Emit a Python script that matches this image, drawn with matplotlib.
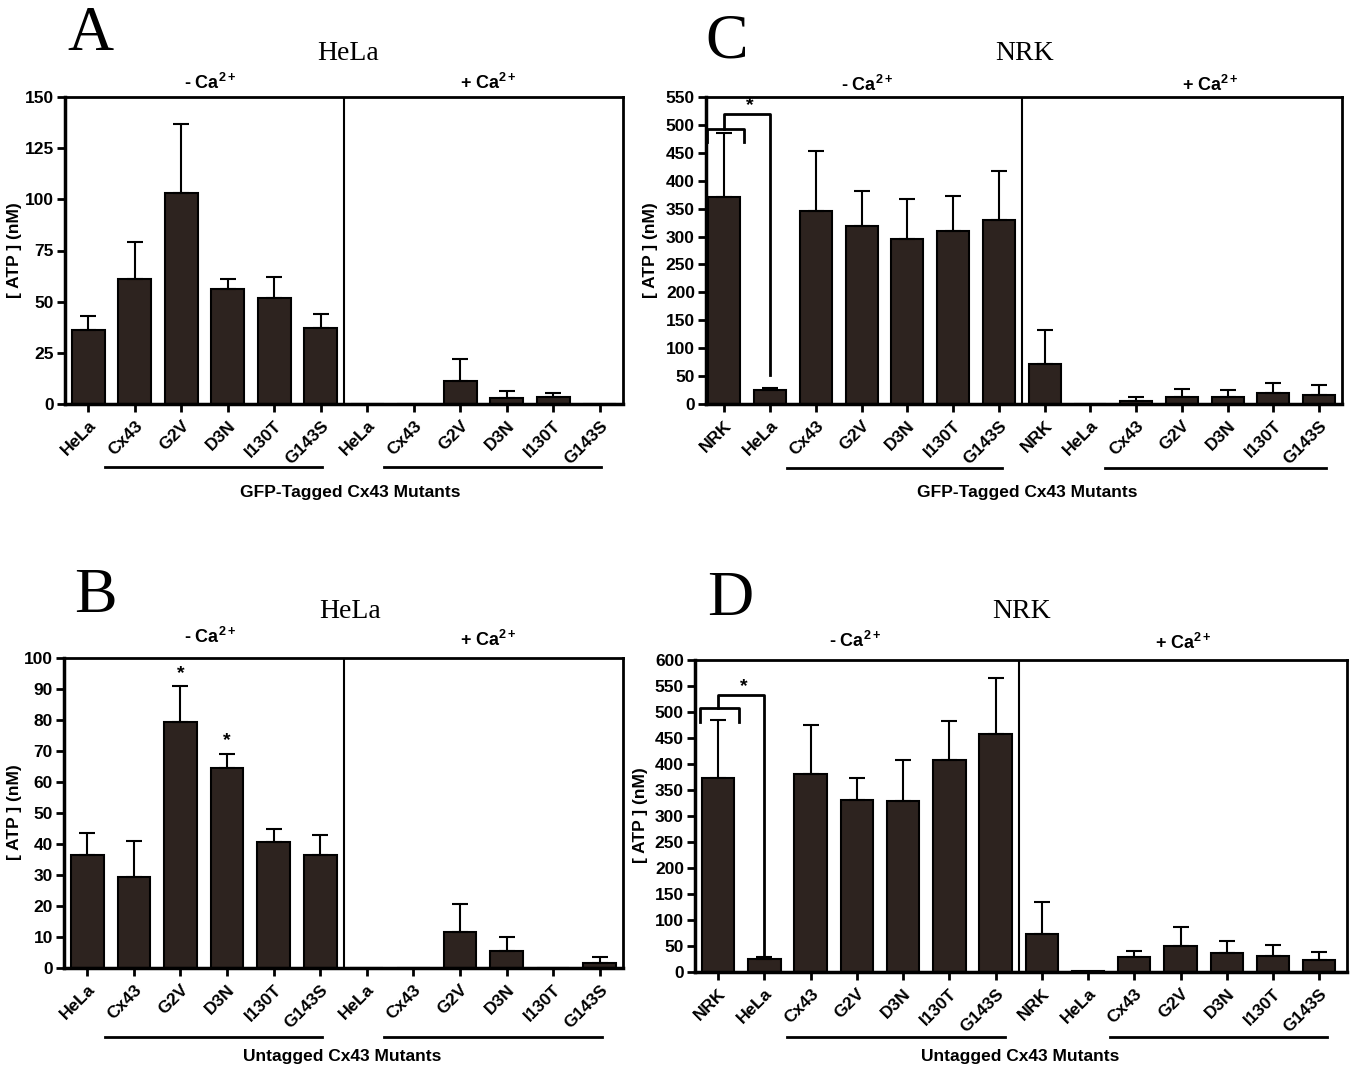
import matplotlib
matplotlib.use("Agg")
import matplotlib.pyplot as plt
import numpy as np

plt.rcParams['font.family'] = ['Liberation Sans Narrow', 'Liberation Sans', 'DejaVu Sans']
plt.rcParams['mathtext.fontset'] = 'custom'
plt.rcParams['mathtext.rm'] = 'Liberation Sans:bold'
plt.rcParams['mathtext.it'] = 'Liberation Sans:bold'
plt.rcParams['mathtext.bf'] = 'Liberation Sans:bold'

# ---------------- data ----------------
hela_labels = ["HeLa", "Cx43", "G2V", "D3N", "I130T", "G143S"]
nrk_labels = ["NRK", "HeLa", "Cx43", "G2V", "D3N", "I130T", "G143S"]

# Panel A: HeLa, GFP-tagged
A_minus = [36, 61, 103, 56, 52, 37]
A_minus_err = [7, 18, 34, 5, 10, 7]
A_plus = [0, 0, 11, 3, 3.5, 0]
A_plus_err = [0, 0, 11, 3.5, 2, 0]

# Panel B: HeLa, untagged
B_minus = [36.5, 29.5, 79.5, 64.5, 40.5, 36.5]
B_minus_err = [7, 11.5, 11.5, 4.5, 4.5, 6.5]
B_plus = [0, 0, 11.5, 5.5, 0, 1.5]
B_plus_err = [0, 0, 9, 4.5, 0, 2]
B_star_idx = [2, 3]
B_star_y = [95, 73.5]

# Panel C: NRK, GFP-tagged
C_minus = [370, 25, 345, 318, 295, 310, 330]
C_minus_err = [115, 3, 108, 64, 72, 62, 88]
C_plus = [72, 0, 5, 13, 12, 19, 17]
C_plus_err = [61, 0, 8, 14, 13, 19, 17]

# Panel D: NRK, untagged
D_minus = [373, 25, 380, 330, 328, 407, 457]
D_minus_err = [112, 3, 95, 43, 80, 75, 108]
D_plus = [74, 1, 28, 50, 37, 30, 23]
D_plus_err = [60, 0, 12, 36, 22, 21, 15]

W, H = 1351, 1070
fig = plt.figure(figsize=(W / 100, H / 100), dpi=100)
fig.patch.set_facecolor('white')

BAR = '#2d231f'


def fx(x):
    return x / W


def fy(y):
    return 1 - y / H


def add_ax(l, t, r, b):
    return fig.add_axes([l / W, 1 - b / H, (r - l) / W, (b - t) / H])


def draw_panel(ax, labels, minus, minus_err, plus, plus_err, ylim, yticks, xlim):
    vals = list(minus) + list(plus)
    errs = list(minus_err) + list(plus_err)
    x = np.arange(len(vals))
    ax.bar(x, vals, width=0.7, color=BAR, edgecolor='black', linewidth=1.5, zorder=2)
    xe = [xi for xi, e in zip(x, errs) if e > 0]
    ve = [v for v, e in zip(vals, errs) if e > 0]
    ee = [e for e in errs if e > 0]
    ax.errorbar(xe, ve, yerr=[np.zeros(len(ee)), ee], fmt='none', ecolor='black',
                elinewidth=1.5, capsize=6, capthick=1.5, zorder=3)
    ax.axvline(len(minus) - 0.5, color='black', lw=1.5, zorder=4)
    ax.set_xlim(*xlim)
    ax.set_ylim(*ylim)
    ax.set_yticks(yticks)
    ax.set_yticklabels([str(t) for t in yticks], fontsize=12.5, fontweight='bold')
    ax.set_xticks(x)
    ax.set_xticklabels(list(labels) * 2, rotation=45, ha='right', va='top',
                       rotation_mode='anchor', fontsize=12.5, fontweight='bold')
    for s in ['left', 'bottom']:
        ax.spines[s].set_linewidth(2.5)
    for s in ['top', 'right']:
        ax.spines[s].set_linewidth(2.0)
    ax.tick_params(axis='both', direction='out', length=6, width=2, pad=2)
    ax.tick_params(axis='x', pad=4)


# ---- Panel A ----
axA = add_ax(65, 97, 623, 404)
draw_panel(axA, hela_labels, A_minus, A_minus_err, A_plus, A_plus_err,
           (0, 150), [0, 25, 50, 75, 100, 125, 150], (-0.5, 11.5))

# ---- Panel C ----
axC = add_ax(706, 97, 1342, 404)
draw_panel(axC, nrk_labels, C_minus, C_minus_err, C_plus, C_plus_err,
           (0, 550), list(range(0, 551, 50)), (-0.4, 13.5))
axC.plot([-0.38, -0.38, 0.44, 0.44], [469, 493, 493, 469], color='black', lw=2, zorder=5)
axC.plot([0, 0, 1, 1], [493, 520, 520, 52], color='black', lw=2, zorder=5)
axC.text(0.55, 534, '*', ha='center', va='center', fontsize=14, fontweight='bold')

# ---- Panel B ----
axB = add_ax(64, 658, 623, 968)
draw_panel(axB, hela_labels, B_minus, B_minus_err, B_plus, B_plus_err,
           (0, 100), list(range(0, 101, 10)), (-0.5, 11.5))
for i, yv in zip(B_star_idx, B_star_y):
    axB.text(i, yv, '*', ha='center', va='center', fontsize=14, fontweight='bold')

# ---- Panel D ----
axD = add_ax(695, 660, 1347, 972)
draw_panel(axD, nrk_labels, D_minus, D_minus_err, D_plus, D_plus_err,
           (0, 600), list(range(0, 601, 50)), (-0.5, 13.6))
axD.plot([-0.39, -0.39, 0.46, 0.46], [481, 507, 507, 481], color='black', lw=2, zorder=5)
axD.plot([0, 0, 1, 1], [507, 533, 533, 30], color='black', lw=2, zorder=5)
axD.text(0.55, 548, '*', ha='center', va='center', fontsize=14, fontweight='bold')

# ---------------- annotations ----------------
serif = ['Liberation Serif', 'DejaVu Serif']

# panel letters
fig.text(fx(90), fy(35), 'A', family=serif, fontsize=46, ha='center', va='center')
fig.text(fx(727), fy(42), 'C', family=serif, fontsize=46, ha='center', va='center')
fig.text(fx(95), fy(597), 'B', family=serif, fontsize=46, ha='center', va='center')
fig.text(fx(730), fy(600), 'D', family=serif, fontsize=46, ha='center', va='center')

# titles
fig.text(fx(348), fy(53), 'HeLa', family=serif, fontsize=20, ha='center', va='center')
fig.text(fx(1025), fy(53), 'NRK', family=serif, fontsize=20, ha='center', va='center')
fig.text(fx(350), fy(611), 'HeLa', family=serif, fontsize=20, ha='center', va='center')
fig.text(fx(1022), fy(612), 'NRK', family=serif, fontsize=20, ha='center', va='center')

ca_minus = r'- Ca$^{2+}$'
ca_plus = r'+ Ca$^{2+}$'
ca_pos = [
    (210, 83, ca_minus), (488, 83, ca_plus),
    (867, 85, ca_minus), (1210, 85, ca_plus),
    (210, 637, ca_minus), (488, 640, ca_plus),
    (855, 641, ca_minus), (1183, 643, ca_plus),
]
for x, y, t in ca_pos:
    fig.text(fx(x), fy(y), t, fontsize=13, fontweight='bold', ha='center', va='center')

# y labels
ylab = '[ ATP ] (nM)'
for x, y in [(15, 250), (650, 250), (15, 812), (641, 815)]:
    fig.text(fx(x), fy(y), ylab, rotation=90, fontsize=12.5, fontweight='bold',
             ha='center', va='center')

# group underlines
underlines = [
    (105, 322, 467), (384, 601, 467),
    (787, 1002, 468), (1105, 1326, 468),
    (105, 322, 1037), (384, 602, 1037),
    (787, 1005, 1037), (1110, 1327, 1037),
]
for x0, x1, y in underlines:
    fig.add_artist(plt.Line2D([fx(x0), fx(x1)], [fy(y), fy(y)], color='black', lw=2))

# group x labels
fig.text(fx(350), fy(493), 'GFP-Tagged Cx43 Mutants', fontsize=12.5, fontweight='bold', ha='center', va='center')
fig.text(fx(1027), fy(493), 'GFP-Tagged Cx43 Mutants', fontsize=12.5, fontweight='bold', ha='center', va='center')
fig.text(fx(342), fy(1057), 'Untagged Cx43 Mutants', fontsize=12.5, fontweight='bold', ha='center', va='center')
fig.text(fx(1020), fy(1057), 'Untagged Cx43 Mutants', fontsize=12.5, fontweight='bold', ha='center', va='center')

fig.savefig('out.png', dpi=100, facecolor='white')
